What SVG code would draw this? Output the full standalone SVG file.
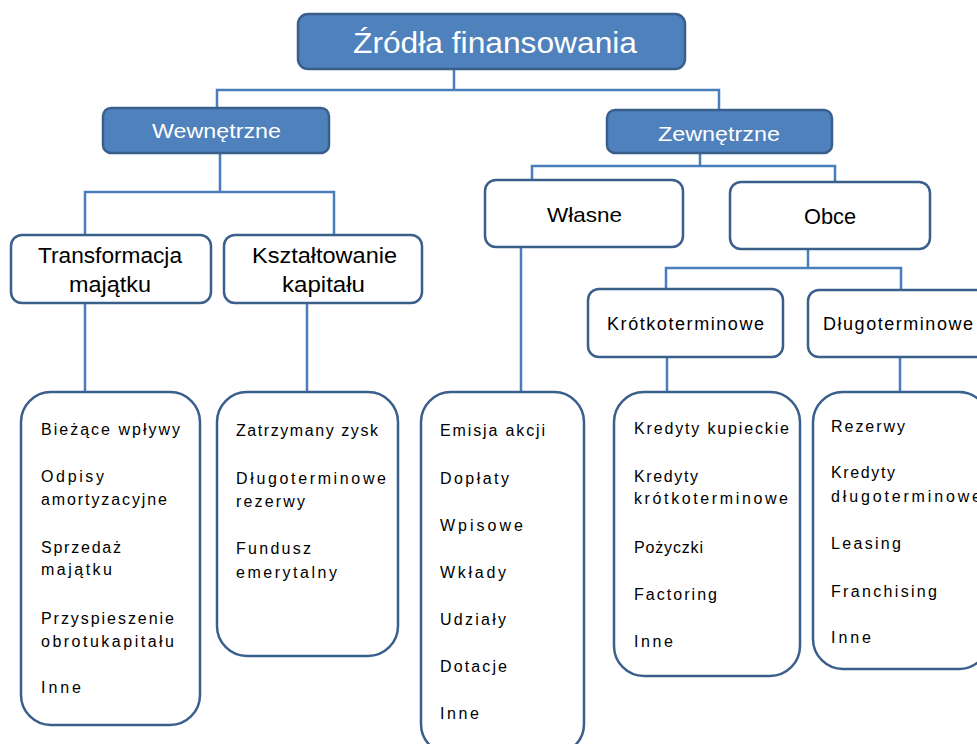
<svg xmlns="http://www.w3.org/2000/svg" width="977" height="744" viewBox="0 0 977 744">
<style>
.hdr{fill:#4F81BD;stroke:#3A5F8C;stroke-width:2.5}
.box{fill:#FFFFFF;stroke:#3A5F8C;stroke-width:2.5}
.conn{fill:none;stroke:#4A7EBB;stroke-width:2.5}
text{font-family:"Liberation Sans",Arial,sans-serif;fill:#000}
.w{fill:#FFFFFF}
.li{font-size:16px}
</style>
<rect width="977" height="744" fill="#FFFFFF"/>
<g id="connectors">
<path class="conn" d="M454 69 V90 M217 108 V90 H719 V110"/>
<path class="conn" d="M220 153 V192 M85 235 V192 H334 V237"/>
<path class="conn" d="M700 153 V166 M532 180 V166 H835 V181"/>
<path class="conn" d="M808 249 V268 M666 289 V268 H901 V292"/>
<path class="conn" d="M85 303 V392 M307 303 V392 M521 247 V392 M667 357 V392 M900 357 V392"/>
</g>
<g id="root">
<rect class="hdr" x="298" y="14" width="387" height="55" rx="10"/>
<text class="w" x="353" y="53" font-size="29" textLength="284" lengthAdjust="spacingAndGlyphs">Źródła finansowania</text>
</g>
<g id="wewnetrzne">
<rect class="hdr" x="103" y="108" width="226" height="45" rx="8"/>
<text class="w" x="152" y="138" font-size="21" textLength="129" lengthAdjust="spacingAndGlyphs">Wewnętrzne</text>
</g>
<g id="zewnetrzne">
<rect class="hdr" x="607" y="110" width="225" height="43" rx="8"/>
<text class="w" x="658" y="141" font-size="21" textLength="122" lengthAdjust="spacingAndGlyphs">Zewnętrzne</text>
</g>
<g id="transformacja">
<rect class="box" x="11" y="235" width="200" height="68" rx="11"/>
<text x="38" y="263" font-size="22" textLength="144" lengthAdjust="spacingAndGlyphs">Transformacja</text>
<text x="69" y="292" font-size="22" textLength="82" lengthAdjust="spacingAndGlyphs">majątku</text>
</g>
<g id="ksztaltowanie">
<rect class="box" x="224" y="235" width="198" height="68" rx="11"/>
<text x="252" y="263" font-size="22" textLength="145" lengthAdjust="spacingAndGlyphs">Kształtowanie</text>
<text x="282" y="292" font-size="22" textLength="83" lengthAdjust="spacingAndGlyphs">kapitału</text>
</g>
<g id="wlasne">
<rect class="box" x="485" y="180" width="198" height="67" rx="11"/>
<text x="547" y="222" font-size="21" textLength="75" lengthAdjust="spacingAndGlyphs">Własne</text>
</g>
<g id="obce">
<rect class="box" x="730" y="182" width="200" height="67" rx="11"/>
<text x="804" y="224" font-size="22" textLength="52" lengthAdjust="spacingAndGlyphs">Obce</text>
</g>
<g id="krotkoterminowe">
<rect class="box" x="588" y="289" width="195" height="68" rx="11"/>
<text x="607" y="330" font-size="18" textLength="157" lengthAdjust="spacing">Krótkoterminowe</text>
</g>
<g id="dlugoterminowe">
<rect class="box" x="808" y="290" width="182" height="67" rx="11"/>
<text x="823" y="330" font-size="18" textLength="150" lengthAdjust="spacing">Długoterminowe</text>
</g>
<g id="lista-transformacja">
<rect class="box" x="21" y="392" width="179" height="333" rx="30"/>
<text class="li" x="41" y="435" textLength="139" lengthAdjust="spacing">Bieżące wpływy</text>
<text class="li" x="41" y="482" textLength="63" lengthAdjust="spacing">Odpisy</text>
<text class="li" x="41" y="505" textLength="126" lengthAdjust="spacing">amortyzacyjne</text>
<text class="li" x="41" y="553" textLength="80" lengthAdjust="spacing">Sprzedaż</text>
<text class="li" x="41" y="575" textLength="71" lengthAdjust="spacing">majątku</text>
<text class="li" x="41" y="624" textLength="133" lengthAdjust="spacing">Przyspieszenie</text>
<text class="li" x="41" y="647" textLength="133" lengthAdjust="spacing">obrotukapitału</text>
<text class="li" x="41" y="693" textLength="40" lengthAdjust="spacing">Inne</text>
</g>
<g id="lista-ksztaltowanie">
<rect class="box" x="217" y="392" width="181" height="264" rx="30"/>
<text class="li" x="236" y="436" textLength="142" lengthAdjust="spacing">Zatrzymany zysk</text>
<text class="li" x="236" y="484" textLength="150" lengthAdjust="spacing">Długoterminowe</text>
<text class="li" x="236" y="507" textLength="69" lengthAdjust="spacing">rezerwy</text>
<text class="li" x="236" y="554" textLength="75" lengthAdjust="spacing">Fundusz</text>
<text class="li" x="236" y="578" textLength="101" lengthAdjust="spacing">emerytalny</text>
</g>
<g id="lista-wlasne">
<rect class="box" x="421" y="392" width="163" height="362" rx="30"/>
<text class="li" x="440" y="436" textLength="105" lengthAdjust="spacing">Emisja akcji</text>
<text class="li" x="440" y="484" textLength="69" lengthAdjust="spacing">Dopłaty</text>
<text class="li" x="440" y="531" textLength="83" lengthAdjust="spacing">Wpisowe</text>
<text class="li" x="440" y="578" textLength="66" lengthAdjust="spacing">Wkłady</text>
<text class="li" x="440" y="625" textLength="66" lengthAdjust="spacing">Udziały</text>
<text class="li" x="440" y="672" textLength="67" lengthAdjust="spacing">Dotacje</text>
<text class="li" x="440" y="719" textLength="39" lengthAdjust="spacing">Inne</text>
</g>
<g id="lista-krotkoterminowe">
<rect class="box" x="614" y="392" width="186" height="284" rx="30"/>
<text class="li" x="634" y="434" textLength="155" lengthAdjust="spacing">Kredyty kupieckie</text>
<text class="li" x="634" y="482" textLength="64" lengthAdjust="spacing">Kredyty</text>
<text class="li" x="634" y="504" textLength="154" lengthAdjust="spacing">krótkoterminowe</text>
<text class="li" x="634" y="553" textLength="69" lengthAdjust="spacing">Pożyczki</text>
<text class="li" x="634" y="600" textLength="83" lengthAdjust="spacing">Factoring</text>
<text class="li" x="634" y="647" textLength="39" lengthAdjust="spacing">Inne</text>
</g>
<g id="lista-dlugoterminowe">
<rect class="box" x="813" y="392" width="176" height="277" rx="30"/>
<text class="li" x="831" y="432" textLength="74" lengthAdjust="spacing">Rezerwy</text>
<text class="li" x="831" y="478" textLength="64" lengthAdjust="spacing">Kredyty</text>
<text class="li" x="831" y="502" textLength="150" lengthAdjust="spacing">długoterminowe</text>
<text class="li" x="831" y="549" textLength="70" lengthAdjust="spacing">Leasing</text>
<text class="li" x="831" y="597" textLength="106" lengthAdjust="spacing">Franchising</text>
<text class="li" x="831" y="643" textLength="40" lengthAdjust="spacing">Inne</text>
</g>
</svg>
